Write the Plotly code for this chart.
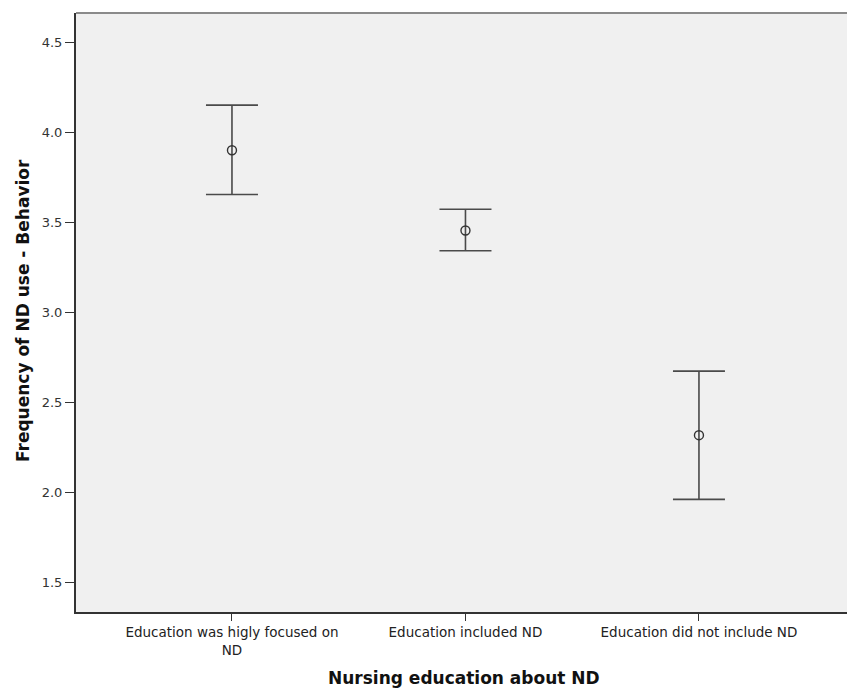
import plotly.graph_objects as go

# Nursing education groups and mean behaviour scores with 95% CI bounds
categories = ["Education was higly focused on<br>ND", "Education included ND", "Education did not include ND"]
means = [3.902, 3.456, 2.318]
ci_upper = [4.153, 3.574, 2.674]
ci_lower = [3.656, 3.343, 1.961]
y_ticks = [1.5, 2.0, 2.5, 3.0, 3.5, 4.0, 4.5]

err_plus = [u - m for u, m in zip(ci_upper, means)]
err_minus = [m - l for m, l in zip(means, ci_lower)]
xpos = list(range(len(categories)))

FONT = "DejaVu Sans, Verdana, sans-serif"

fig = go.Figure()
fig.add_trace(go.Scatter(
    x=xpos, y=means, mode="markers",
    marker=dict(symbol="circle-open", size=9, color="#333333", line=dict(width=1.4, color="#333333")),
    error_y=dict(type="data", symmetric=False, array=err_plus, arrayminus=err_minus,
                 width=26, thickness=1.6, color="#4a4a4a"),
    showlegend=False, hoverinfo="skip",
))

fig.update_layout(
    width=847, height=689,
    margin=dict(l=76, r=0, t=13, b=77),
    paper_bgcolor="white", plot_bgcolor="#f0f0f0",
    font=dict(family=FONT, size=12, color="#333333"),
    xaxis=dict(
        range=[-0.668, 2.634], tickmode="array", tickvals=xpos, ticktext=categories,
        showgrid=False, zeroline=False, showline=True, linecolor="#333333", linewidth=2,
        ticks="outside", ticklen=7, tickwidth=1, tickcolor="#333333",
        tickfont=dict(family=FONT, size=13.5, color="#222222"),
    ),
    yaxis=dict(
        range=[1.335, 4.665], tickmode="array", tickvals=y_ticks,
        ticktext=[f"{v:.1f}" for v in y_ticks],
        showgrid=False, zeroline=False, showline=True, linecolor="#333333", linewidth=2,
        ticks="outside", ticklen=9, tickwidth=1, tickcolor="#333333",
        tickfont=dict(family=FONT, size=13, color="#333333"),
    ),
    shapes=[dict(type="line", xref="paper", yref="paper", x0=0, x1=1, y0=1, y1=1,
                 line=dict(color="#8a8a8a", width=2))],
    annotations=[
        dict(text="<b>Nursing education about ND</b>", xref="paper", yref="paper",
             x=(464 - 76) / 771, y=-(678 - 612) / 599, xanchor="center", yanchor="middle",
             showarrow=False, font=dict(family=FONT, size=17, color="#111111")),
        dict(text="<b>Frequency of ND use - Behavior</b>", xref="paper", yref="paper",
             x=-(76 - 23) / 771, y=(612 - 311) / 599, xanchor="center", yanchor="middle",
             textangle=-90, showarrow=False, font=dict(family=FONT, size=17, color="#111111")),
    ],
)

fig.write_html("out.html")
